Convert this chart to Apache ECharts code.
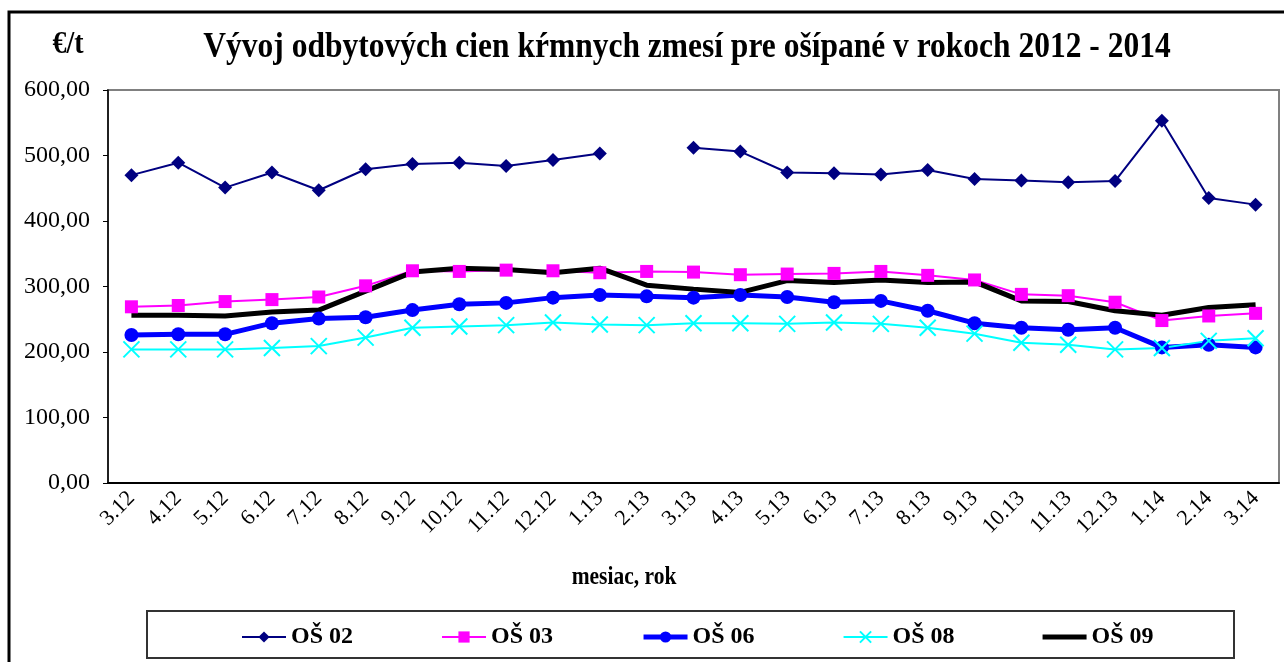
<!DOCTYPE html>
<html>
<head>
<meta charset="utf-8">
<script src="https://cdn.jsdelivr.net/npm/echarts@6/dist/echarts.min.js"></script>
<style>
html,body{margin:0;padding:0;background:#fff;}
#chart{width:1284px;height:662px;}
</style>
</head>
<body>
<div id="chart"></div>
<script>
var months = ['3.12','4.12','5.12','6.12','7.12','8.12','9.12','10.12','11.12','12.12','1.13','2.13','3.13','4.13','5.13','6.13','7.13','8.13','9.13','10.13','11.13','12.13','1.14','2.14','3.14'];
var os02 = [470,489,451,474,447,479,487,489,484,493,503,null,512,506,474,473,471,478,464,462,459,461,553,435,425];
var os03 = [269,271,277,280,284,301,324,323,325,324,321,323,322,318,319,320,323,317,310,288,286,276,248,255,259];
var os06 = [226,227,227,244,251,253,264,273,275,283,287,285,283,287,284,276,278,263,244,237,234,237,207,211,207];
var os08 = [204,204,204,206,209,222,237,239,241,245,242,241,244,244,243,245,243,237,228,214,211,204,206,217,221];
var os09 = [256,256,255,261,264,293,322,328,326,321,328,302,296,291,309,306,310,306,307,278,277,263,256,268,272];

var serif = "'Liberation Serif','Times New Roman',serif";
var chart = echarts.init(document.getElementById('chart'));

var option = {
    animation: false,
    backgroundColor: '#fff',
    grid: {
        left: 108, right: 5, top: 90, bottom: 179,
        show: true, borderColor: '#808080', borderWidth: 2
    },
    legend: {
        left: 236, top: 620,
        itemWidth: 44, itemHeight: 14, itemGap: 88,
        textStyle: {fontFamily: serif, fontSize: 24, fontWeight: 'bold', color: '#000'},
        data: [
            {name: 'OŠ 02'},
            {name: 'OŠ 03'},
            {name: 'OŠ 06', lineStyle: {width: 5}},
            {name: 'OŠ 08'},
            {name: 'OŠ 09', icon: 'path://M0,0L44,0L44,5L0,5Z'}
        ]
    },
    xAxis: {
        type: 'category',
        data: months,
        boundaryGap: true,
        axisLine: {lineStyle: {color: '#000', width: 2}},
        axisTick: {length: 6, lineStyle: {color: '#000'}},
        axisLabel: {rotate: 45, fontFamily: serif, fontSize: 22, color: '#000', margin: 12, interval: 0}
    },
    yAxis: {
        type: 'value',
        min: 0, max: 600, interval: 100,
        splitLine: {show: false},
        axisLine: {show: true, lineStyle: {color: '#000', width: 1.5}},
        axisTick: {show: true, length: 5, lineStyle: {color: '#000'}},
        axisLabel: {
            fontFamily: serif, fontSize: 24, color: '#000', margin: 18,
            formatter: function (v) { return v.toFixed(2).replace('.', ','); }
        }
    },
    series: [
        {
            name: 'OŠ 02', type: 'line', data: os02, connectNulls: false,
            symbol: 'diamond', symbolSize: 14, showAllSymbol: true,
            lineStyle: {color: '#000080', width: 2},
            itemStyle: {color: '#000080'}
        },
        {
            name: 'OŠ 03', type: 'line', data: os03,
            symbol: 'rect', symbolSize: 13,
            lineStyle: {color: '#FF00FF', width: 2},
            itemStyle: {color: '#FF00FF'}
        },
        {
            name: 'OŠ 06', type: 'line', data: os06,
            symbol: 'circle', symbolSize: 14,
            lineStyle: {color: '#0000FF', width: 5},
            itemStyle: {color: '#0000FF'}
        },
        {
            name: 'OŠ 08', type: 'line', data: os08,
            symbol: 'path://M0,0L10,10M10,0L0,10', symbolSize: 16,
            lineStyle: {color: '#00FFFF', width: 2},
            itemStyle: {color: 'rgba(0,0,0,0)', borderColor: '#00FFFF', borderWidth: 2}
        },
        {
            name: 'OŠ 09', type: 'line', data: os09,
            symbol: 'none',
            lineStyle: {color: '#000', width: 5},
            itemStyle: {color: '#000'}
        }
    ],
    graphic: [
        {type: 'rect', shape: {x: 9, y: 12, width: 1300, height: 700},
         style: {fill: null, stroke: '#000', lineWidth: 3}, silent: true, z: -1},
        {type: 'rect', shape: {x: 147, y: 611, width: 1087, height: 47},
         style: {fill: null, stroke: '#333', lineWidth: 2}, silent: true},
        {type: 'text', x: 687, y: 48, scaleY: 1.15,
         style: {text: 'Vývoj odbytových cien kŕmnych zmesí pre ošípané v rokoch 2012 - 2014',
                 font: 'bold 31.5px ' + serif, fill: '#000', textAlign: 'center', textVerticalAlign: 'middle'}},
        {type: 'text', x: 68, y: 45, scaleY: 1.15,
         style: {text: '€/t', font: 'bold 28px ' + serif, fill: '#000', textAlign: 'center', textVerticalAlign: 'middle'}},
        {type: 'text', x: 624, y: 578, scaleY: 1.15,
         style: {text: 'mesiac, rok', font: 'bold 21.5px ' + serif, fill: '#000', textAlign: 'center', textVerticalAlign: 'middle'}}
    ]
};
chart.setOption(option);
</script>
</body>
</html>
